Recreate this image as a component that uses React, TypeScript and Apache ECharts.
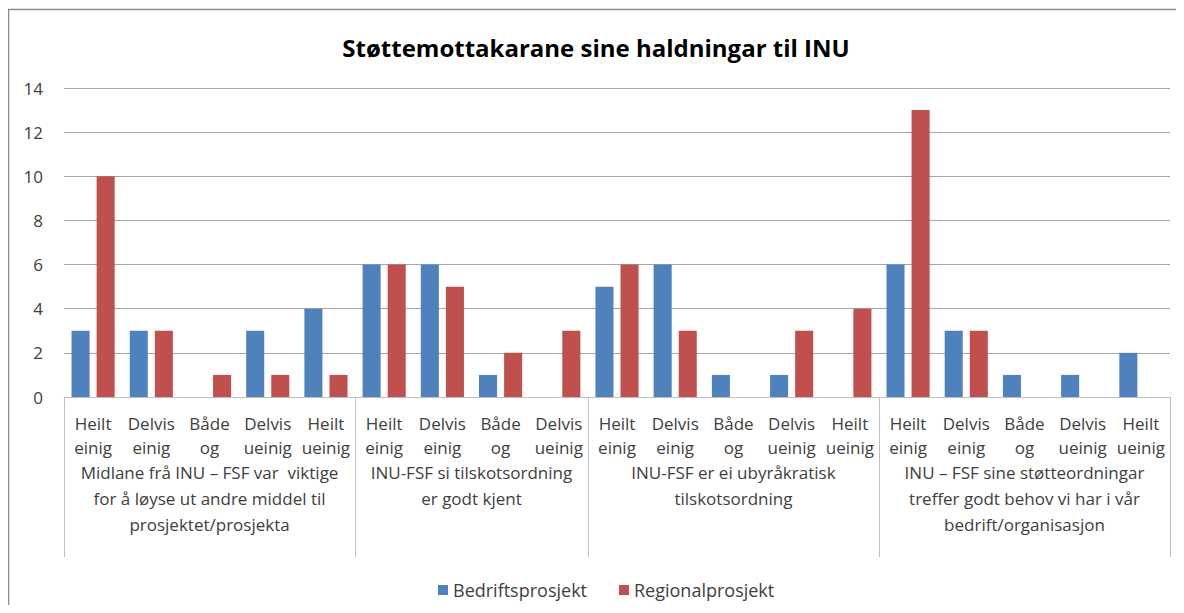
import React, { useEffect, useRef } from "react";
import * as echarts from "echarts";

const titleText = "Støttemottakarane sine haldningar til INU";
const seriesNames = ["Bedriftsprosjekt", "Regionalprosjekt"];

const groupLabels = [
  "Midlane frå INU – FSF var  viktige\nfor å løyse ut andre middel til\nprosjektet/prosjekta",
  "INU-FSF si tilskotsordning\ner godt kjent",
  "INU-FSF er ei ubyråkratisk\ntilskotsordning",
  "INU – FSF sine støtteordningar\ntreffer godt behov vi har i vår\nbedrift/organisasjon",
];

const groupCategories = [
  ["Heilt einig", "Delvis einig", "Både og", "Delvis ueinig", "Heilt ueinig"],
  ["Heilt einig", "Delvis einig", "Både og", "Delvis ueinig"],
  ["Heilt einig", "Delvis einig", "Både og", "Delvis ueinig", "Heilt ueinig"],
  ["Heilt einig", "Delvis einig", "Både og", "Delvis ueinig", "Heilt ueinig"],
];

const bedriftValues = [3, 3, 0, 3, 4, 6, 6, 1, 0, 5, 6, 1, 1, 0, 6, 3, 1, 1, 2];
const regionalValues = [10, 3, 1, 1, 1, 6, 5, 2, 3, 6, 3, 0, 3, 4, 13, 3, 0, 0, 0];

const yMin = 0;
const yMax = 14;
const yInterval = 2;

const FONT = '"Open Sans", Lato, sans-serif';

export default function App() {
  const ref = useRef<HTMLDivElement>(null);

  useEffect(() => {
    if (!ref.current) return;
    const chart = echarts.init(ref.current, null, { renderer: "svg" });

    const categories: string[] = [];
    const groupStarts: number[] = [];
    const groupRanges: [number, number][] = [];
    groupCategories.forEach((g) => {
      groupStarts.push(categories.length);
      groupRanges.push([categories.length, categories.length + g.length - 1]);
      g.forEach((c) => categories.push(c));
    });

    const option: any = {
      animation: false,
      backgroundColor: "#ffffff",
      textStyle: { fontFamily: FONT },
      title: {
        text: titleText,
        left: "center",
        top: 22,
        textStyle: { fontFamily: FONT, fontSize: 24, fontWeight: "bold", color: "#000000" },
      },
      legend: {
        data: seriesNames,
        top: 568,
        left: 425,
        itemWidth: 10,
        itemHeight: 10,
        itemGap: 32,
        icon: "rect",
        textStyle: { fontFamily: FONT, fontSize: 18, color: "#404040" },
      },
      grid: { left: 56, right: 14, top: 80, bottom: 208, containLabel: false },
      xAxis: {
        type: "category",
        data: categories,
        boundaryGap: true,
        axisLine: { show: true, lineStyle: { color: "#BFBFBF", width: 1 } },
        axisTick: {
          show: true,
          interval: (idx: number) => groupStarts.indexOf(idx) >= 0,
          length: 160,
          lineStyle: { color: "#BFBFBF", width: 1 },
        },
        axisLabel: {
          interval: 0,
          margin: 14,
          fontFamily: FONT,
          fontSize: 17,
          lineHeight: 24,
          color: "#404040",
          formatter: (v: string) => v.replace(" ", "\n"),
        },
      },
      yAxis: {
        type: "value",
        min: yMin,
        max: yMax,
        interval: yInterval,
        axisLine: { show: false },
        axisTick: { show: false },
        splitLine: { lineStyle: { color: "#A6A6A6", width: 1 } },
        axisLabel: { fontFamily: FONT, fontSize: 17, color: "#404040", margin: 21 },
      },
      series: [
        {
          name: seriesNames[0],
          type: "bar",
          data: bedriftValues,
          barWidth: "31%",
          barGap: "39%",
          itemStyle: { color: "#4F81BD" },
        },
        {
          name: seriesNames[1],
          type: "bar",
          data: regionalValues,
          barWidth: "31%",
          barGap: "39%",
          itemStyle: { color: "#C0504D" },
        },
      ],
    };

    chart.setOption(option);

    const graphics: any[] = [
      {
        type: "rect",
        shape: { x: 0.5, y: 1.5, width: 1171, height: 640 },
        style: { fill: "none", stroke: "#8C8C8C", lineWidth: 1.5 },
        silent: true,
        z: 100,
      },
    ];
    const axisY = chart.convertToPixel({ yAxisIndex: 0 }, 0) as number;
    groupRanges.forEach(([a, b], i) => {
      const xa = chart.convertToPixel({ xAxisIndex: 0 }, a) as number;
      const xb = chart.convertToPixel({ xAxisIndex: 0 }, b) as number;
      graphics.push({
        type: "text",
        x: (xa + xb) / 2,
        y: axisY + 62,
        style: {
          text: groupLabels[i],
          fontFamily: FONT,
          fontSize: 17,
          lineHeight: 26,
          fill: "#404040",
          align: "center",
          verticalAlign: "top",
        },
        silent: true,
      });
    });
    chart.setOption({ graphic: graphics });

    return () => chart.dispose();
  }, []);

  return <div ref={ref} style={{ width: 1176, height: 597 }} />;
}
